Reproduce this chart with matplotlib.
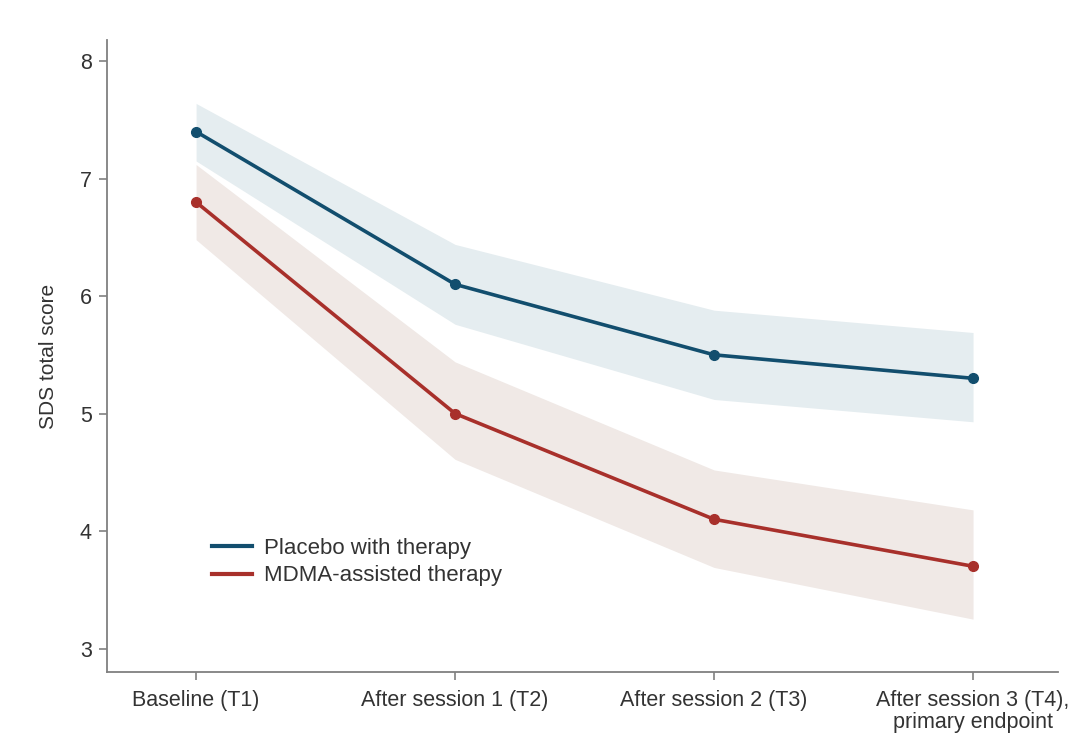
import matplotlib
matplotlib.use("Agg")
import matplotlib.pyplot as plt

categories = ["Baseline (T1)", "After session 1 (T2)", "After session 2 (T3)",
              "After session 3 (T4),\nprimary endpoint"]
placebo = [7.4, 6.1, 5.5, 5.3]
placebo_hi = [7.64, 6.44, 5.88, 5.69]
placebo_lo = [7.15, 5.76, 5.12, 4.93]
mdma = [6.8, 5.0, 4.1, 3.7]
mdma_hi = [7.12, 5.44, 4.52, 4.18]
mdma_lo = [6.48, 4.61, 3.69, 3.25]
yticks = [3, 4, 5, 6, 7, 8]

plt.rcParams['font.family'] = ['Liberation Sans', 'DejaVu Sans']

fig = plt.figure(figsize=(10.76, 7.36), dpi=100)
ax = fig.add_axes([107/1076, 1-672/736, (1058-107)/1076, (672-40)/736])

x = list(range(len(categories)))
blue = "#124e6e"
red = "#a8302b"
ax.fill_between(x, placebo_lo, placebo_hi, color="#e5edf0", lw=0, zorder=1)
ax.fill_between(x, mdma_lo, mdma_hi, color="#f0e9e6", lw=0, zorder=1)
ax.plot(x, placebo, color=blue, lw=2.6, marker="o", ms=7, label="Placebo with therapy", zorder=3)
ax.plot(x, mdma, color=red, lw=2.6, marker="o", ms=7, label="MDMA-assisted therapy", zorder=3)

ax.set_xlim(-0.344, 3.328)
ax.set_ylim(2.80, 8.18)
ax.set_yticks(yticks)
ax.set_xticks(x)
ax.set_xticklabels(categories, linespacing=1.05)
for s in ["top", "right"]:
    ax.spines[s].set_visible(False)
for s in ["left", "bottom"]:
    ax.spines[s].set_color("#808080")
    ax.spines[s].set_linewidth(1.3)
ax.tick_params(axis="both", colors="#808080", labelcolor="#333333", labelsize=15.5, length=6, width=1.2)
ax.tick_params(axis="y", pad=5)
ax.tick_params(axis="x", pad=7)
ax.set_ylabel("SDS total score", fontsize=15, color="#333333", labelpad=16)

leg = ax.legend(loc="center left", bbox_to_anchor=(0.110, 0.174), frameon=False, fontsize=16,
                handlelength=1.8, handletextpad=0.55, labelspacing=0.3,
                borderaxespad=0, borderpad=0)
for h in leg.legend_handles:
    h.set_marker("")
    h.set_linewidth(3)
for t in leg.get_texts():
    t.set_color("#333333")

fig.savefig("out.png", dpi=100)
